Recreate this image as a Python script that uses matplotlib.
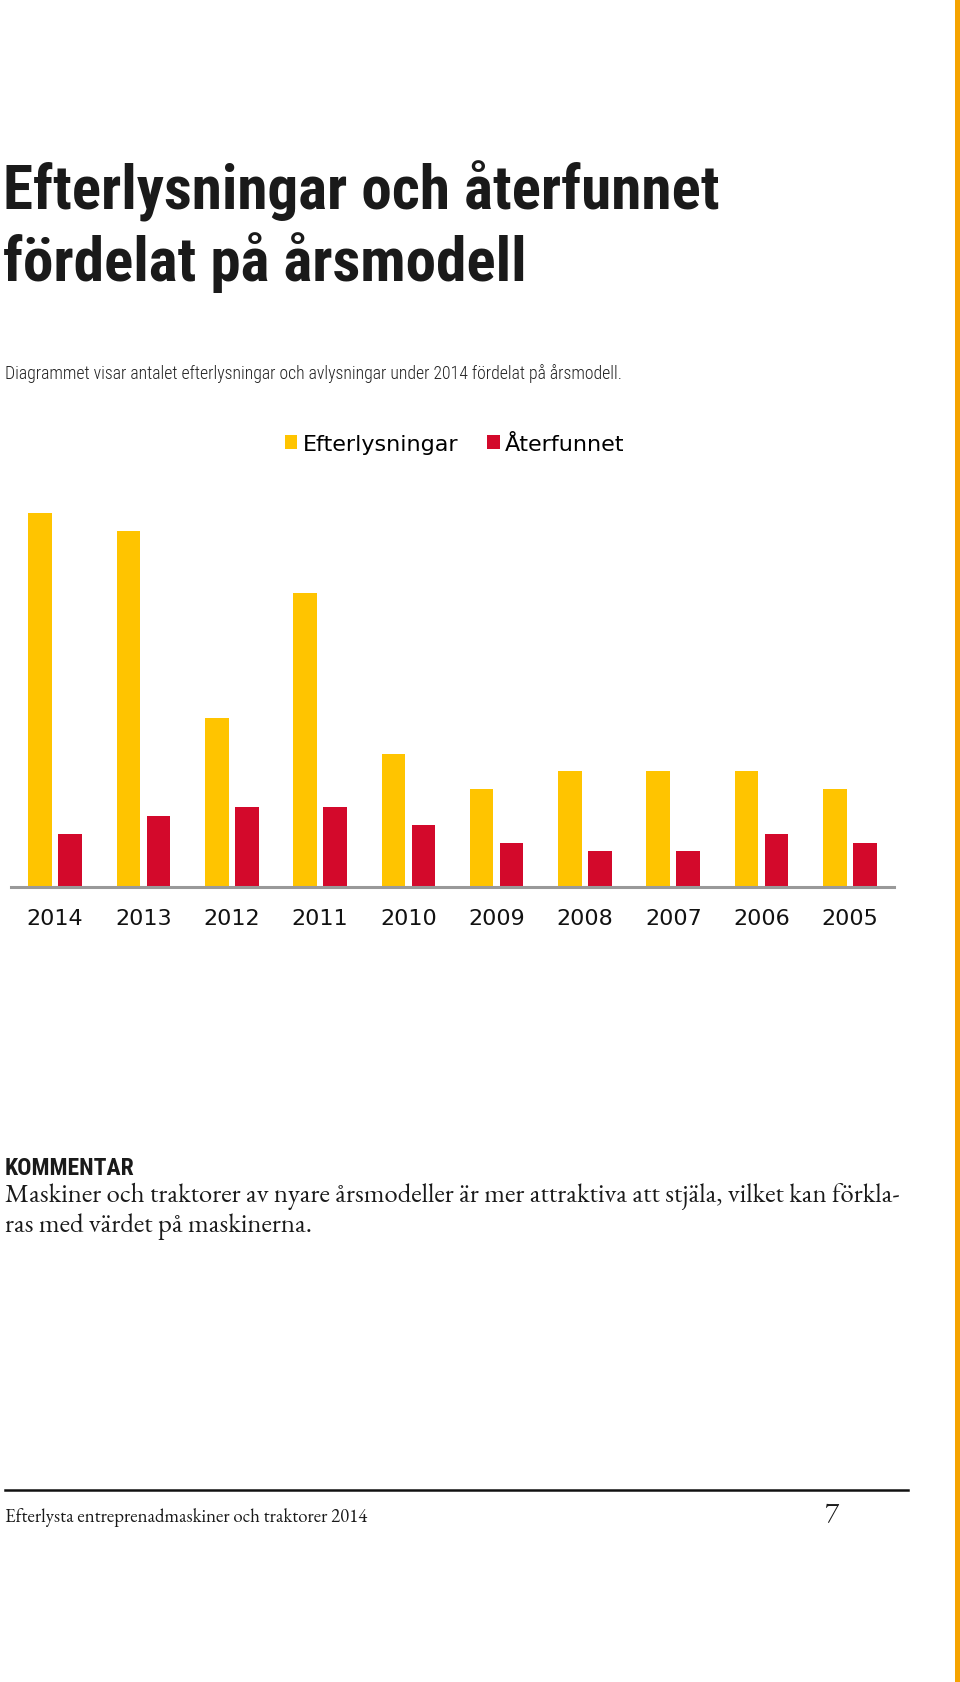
import matplotlib
matplotlib.use("Agg")
import matplotlib.pyplot as plt
from matplotlib.patches import Rectangle
from matplotlib.lines import Line2D
import numpy as np

# data (arbitrary units, no y axis in the original)
years = ["2014", "2013", "2012", "2011", "2010", "2009", "2008", "2007", "2006", "2005"]
efterlysningar = [42, 40, 19, 33, 15, 11, 13, 13, 13, 11]
aterfunnet = [6, 8, 9, 9, 7, 5, 4, 4, 6, 5]

title_lines = ["Efterlysningar och återfunnet", "fördelat på årsmodell"]
subtitle = "Diagrammet visar antalet efterlysningar och avlysningar under 2014 fördelat på årsmodell."
comment_head = "KOMMENTAR"
comment_lines = ["Maskiner och traktorer av nyare årsmodeller är mer attraktiva att stjäla, vilket kan förkla-",
                 "ras med värdet på maskinerna."]
footer = "Efterlysta entreprenadmaskiner och traktorer 2014"
page_no = "7"

YELLOW = "#FFC400"
RED = "#D3092B"
W, H = 960, 1683

COND = ["Roboto Condensed", "Roboto", "DejaVu Sans"]
SERIF = ["EB Garamond", "Liberation Serif", "DejaVu Serif"]


def fx(px):
    return px / W


def fy(py):
    return 1 - py / H


fig = plt.figure(figsize=(W / 100, H / 100), dpi=100)
fig.patch.set_facecolor("white")

# heading texts
fig.text(fx(3), fy(210), title_lines[0], family=COND, weight="bold", fontsize=44, color="#1a1a1a", va="baseline")
fig.text(fx(3), fy(281), title_lines[1], family=COND, weight="bold", fontsize=44, color="#1a1a1a", va="baseline")
fig.text(fx(5), fy(379), subtitle, family=COND, weight=300, fontsize=12.8, color="#222222", va="baseline")

# bar chart
ax = fig.add_axes([fx(11), fy(888), fx(894) - fx(11), (888 - 500) / H])
x = np.arange(len(years))
bw = 0.267
off = 0.17
ax.bar(x - off, efterlysningar, bw, color=YELLOW, label="Efterlysningar")
ax.bar(x + off, aterfunnet, bw, color=RED, label="Återfunnet")
ax.set_xlim(-0.5, len(years) - 0.5)
ax.set_ylim(0, 388 / 8.9)
ax.set_xticks(x)
ax.set_xticklabels(years, fontsize=16, family="DejaVu Sans", color="#111111")
ax.tick_params(axis="x", length=0, pad=15)
ax.set_yticks([])
for s in ["top", "left", "right"]:
    ax.spines[s].set_visible(False)
ax.spines["bottom"].set_color("#999999")
ax.spines["bottom"].set_linewidth(2.2)
ax.set_facecolor("none")

fig.legend(loc="center left", bbox_to_anchor=(fx(285), fy(445)), ncol=2, frameon=False,
           prop={"family": "DejaVu Sans", "size": 16}, handlelength=0.55, handleheight=0.58,
           handletextpad=0.25, columnspacing=1.3, borderpad=0, borderaxespad=0)

# comment block
fig.text(fx(5), fy(1175), comment_head, family=COND, weight="bold", fontsize=17, color="#1a1a1a", va="baseline")
fig.text(fx(5), fy(1202), comment_lines[0], family=SERIF, fontsize=19.3, color="#1a1a1a", va="baseline")
fig.text(fx(5), fy(1232), comment_lines[1], family=SERIF, fontsize=19.3, color="#1a1a1a", va="baseline")

# footer
fig.add_artist(Line2D([fx(5), fx(908)], [fy(1491), fy(1491)], color="#111111", lw=1.8))
fig.text(fx(5), fy(1522), footer, family=SERIF, fontsize=13.5, color="#1a1a1a", va="baseline")
fig.text(fx(825), fy(1522), page_no, family=SERIF, fontsize=21, color="#1a1a1a", va="baseline")

# orange page edge
fig.add_artist(Rectangle((fx(955), 0), fx(5), 1, transform=fig.transFigure, color="#F5A300", lw=0))

fig.savefig("out.png", dpi=100)
